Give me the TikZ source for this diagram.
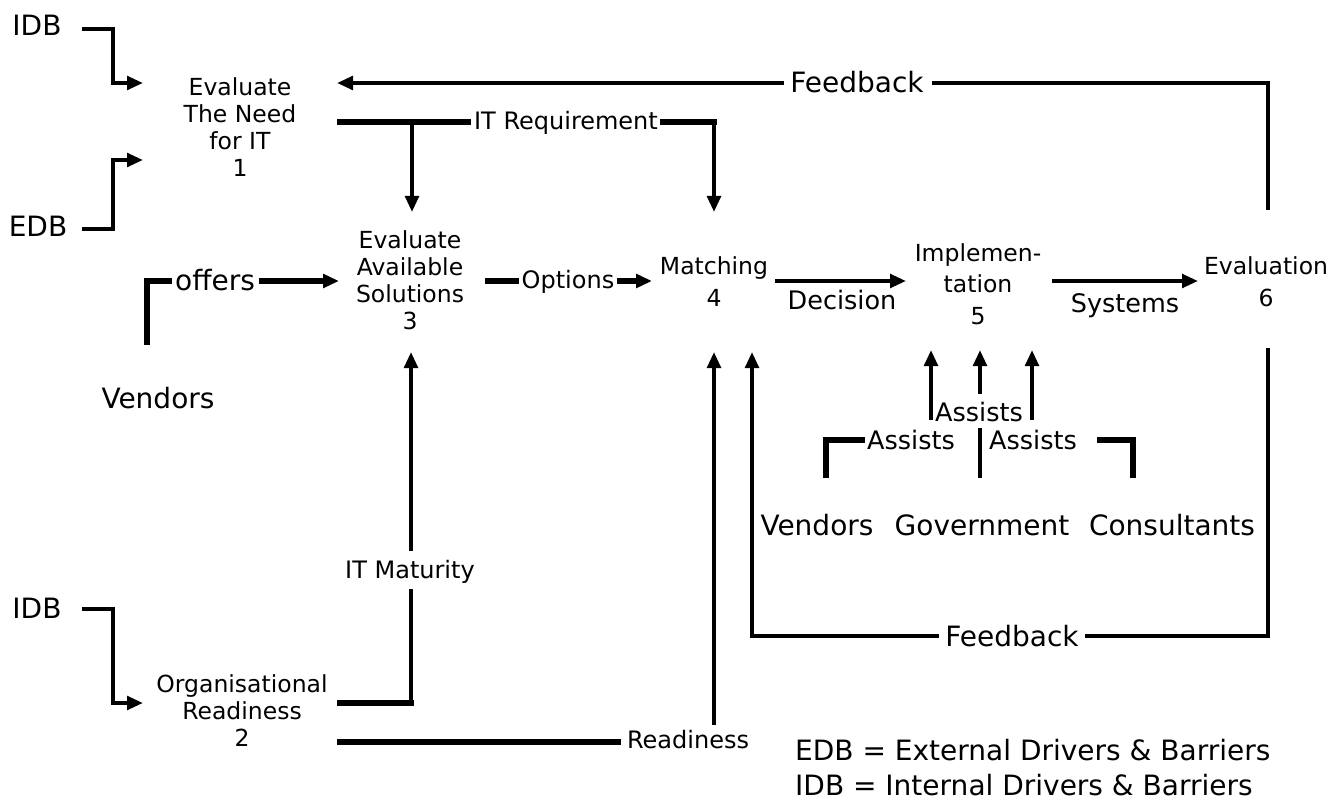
\documentclass[tikz,border=0pt]{standalone}
\usepackage{fontspec}
\setmainfont{DejaVu Sans}
\usetikzlibrary{arrows.meta}
\begin{document}
\begin{tikzpicture}[x=1pt,y=-1pt,
  ln/.style={line width=3.8pt},
  tk/.style={line width=5.5pt},
  tip/.style={-{Triangle[length=16pt,width=13.5pt]}},
  arr/.style={ln,tip},
  sm/.style={font=\fontsize{23.5}{27}\selectfont, align=center, inner sep=0pt},
  sw/.style={font=\fontsize{23.5}{32}\selectfont, align=center, inner sep=0pt},
  md/.style={font=\fontsize{25.5}{30}\selectfont, inner sep=0pt, text height=18.6pt, text depth=0pt},
  lg/.style={font=\fontsize{28}{32}\selectfont, inner sep=0pt, text height=20.4pt, text depth=0pt},
  sl/.style={font=\fontsize{24}{27}\selectfont, inner sep=0pt, text height=17.5pt, text depth=0pt}
]
\useasboundingbox (0,0) rectangle (1341,802);

% ---------- text nodes ----------
\node[lg] (idbA) at (37,25) {IDB};
\node[lg] (edb) at (38,226) {EDB};
\node[lg] (idbB) at (37,608) {IDB};
\node[lg] (vendL) at (158,398) {Vendors};

\node[sm] (n1) at (240,127) {Evaluate\\The Need\\for IT\\1};
\node[sm] (n3) at (410,280) {Evaluate\\Available\\Solutions\\3};
\node[sm] (n2) at (242,711) {Organisational\\Readiness\\2};
\node[sw] (n4) at (714,282) {Matching\\4};
\node[font=\fontsize{23.5}{31.5}\selectfont, align=center, inner sep=0pt] (n5) at (978,284) {Implemen-\\tation\\5};
\node[sw] (n6) at (1266,282) {Evaluation\\6};

\node[lg] (vendR) at (817,525) {Vendors};
\node[lg] (gov) at (982,525) {Government};
\node[lg] (cons) at (1172,525) {Consultants};

\node[lg, anchor=west] (leg1) at (795,750) {EDB = External Drivers \& Barriers};
\node[lg, anchor=west] (leg2) at (795,785) {IDB = Internal Drivers \& Barriers};

% label nodes
\node[lg] (fb1) at (857,82) {Feedback};
\node[sl] (itreq) at (566,121) {IT Requirement};
\node[lg] (offers) at (215,280) {offers};
\node[sl] (options) at (568,280) {Options};
\node[md] (decision) at (842,300) {Decision};
\node[md] (systems) at (1125,303) {Systems};
\node[sl] (itmat) at (410,570) {IT Maturity};
\node[sl] (ready) at (688,740) {Readiness};
\node[lg] (fb2) at (1012,636) {Feedback};
\node[md] (as0) at (979,412) {Assists};
\node[md] (as1) at (911,440) {Assists};
\node[md] (as2) at (1033,440) {Assists};

% ---------- coordinates ----------
\coordinate (idbAo) at (82,29);
\coordinate (n1a) at (143,83);
\coordinate (edbo) at (82,229);
\coordinate (n1b) at (143,160);
\coordinate (idbBo) at (82,609);
\coordinate (n2a) at (143,703);
\coordinate (n6top) at (1268,210);
\coordinate (n6bot) at (1268,348);
\coordinate (n1fb) at (337,83);
\coordinate (n1o) at (337,122);
\coordinate (n3top) at (412,212);
\coordinate (n4top) at (714,212);
\coordinate (vendo) at (147,345);
\coordinate (n3in) at (339,281);
\coordinate (n3o) at (485,281);
\coordinate (n4in) at (652,281);
\coordinate (n4o) at (775,281);
\coordinate (n5in) at (906,281);
\coordinate (n5o) at (1052,281);
\coordinate (n6in) at (1198,281);
\coordinate (n2o) at (337,703);
\coordinate (n2r) at (337,742);
\coordinate (n3bot) at (411,352);
\coordinate (n4bot) at (714,352);
\coordinate (n4fb) at (752,352);
\coordinate (a5l) at (931,350);
\coordinate (a5m) at (980,350);
\coordinate (a5r) at (1032,350);
\coordinate (vRt) at (826,478);
\coordinate (gt) at (980,478);
\coordinate (cRt) at (1133,478);

% ---------- connectors ----------
\draw[arr] (idbAo) -| (113,83) -- (n1a);
\draw[arr] (edbo) -| (113,160) -- (n1b);
\draw[arr] (idbBo) -| (113,703) -- (n2a);

% feedback top
\draw[ln] (n6top) |- ([xshift=8pt]fb1.east |- n1fb);
\draw[arr] ([xshift=-6pt]fb1.west |- n1fb) -- (n1fb);

% IT requirement
\draw[tk] (n1o) -- ([xshift=-3pt]itreq.west |- n1o);
\draw[tk] ([xshift=2pt]itreq.east |- n1o) -- (716.5,122);
\draw[arr] (714,122) -- (n4top);
\draw[arr] (412,122) -- (n3top);

% offers
\draw[tk] (vendo) |- ([xshift=-3pt]offers.west |- n3in);
\draw[tk,tip] ([xshift=4pt]offers.east |- n3in) -- (n3in);

% options
\draw[tk] (n3o) -- ([xshift=-3pt]options.west |- n3o);
\draw[tk,tip] ([xshift=2pt]options.east |- n3o) -- (n4in);

% decision / systems
\draw[arr] (n4o) -- (n5in);
\draw[arr] (n5o) -- (n6in);

% IT maturity
\draw[tk] (n2o) -- (413.5,703);
\draw[ln] (411,704) -- ([yshift=-10pt]itmat.south -| n3bot);
\draw[arr] ([yshift=10pt]itmat.north -| n3bot) -- (n3bot);

% readiness
\draw[tk] (n2r) -- ([xshift=-6pt]ready.west |- n2r);
\draw[arr] ([yshift=6pt]ready.north -| n4bot) -- (n4bot);

% feedback bottom
\draw[ln] (n6bot) |- ([xshift=6pt]fb2.east);
\draw[arr] ([xshift=-6pt]fb2.west) -| (n4fb);

% assists
\draw[arr] (931,420) -- (a5l);
\draw[arr] ([yshift=9pt]as0.north -| a5m) -- (a5m);
\draw[arr] (1032,420) -- (a5r);
\draw[tk] (vRt) |- ([xshift=-2pt]as1.west);
\draw[ln] (gt) -- (980,428);
\draw[tk] (cRt) |- ([xshift=20pt]as2.east);
\end{tikzpicture}
\end{document}
